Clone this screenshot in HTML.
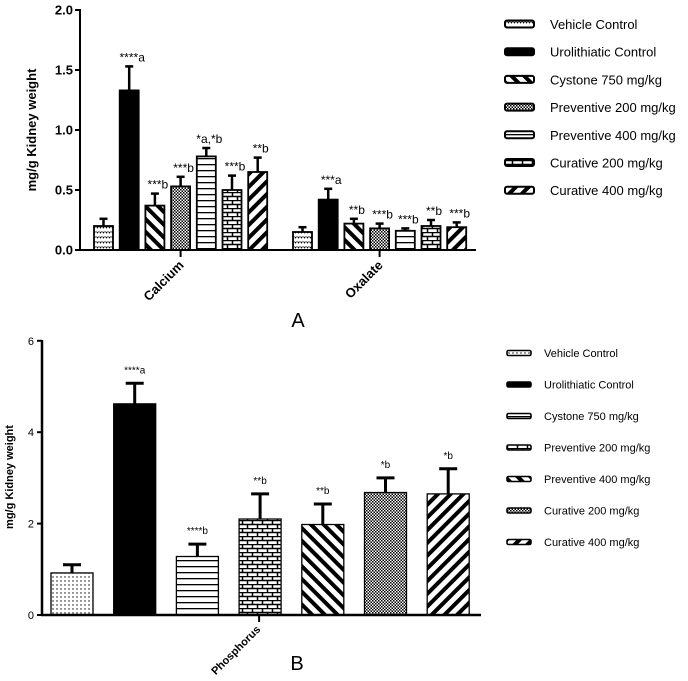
<!DOCTYPE html>
<html><head><meta charset="utf-8"><style>
body{margin:0;background:#fff;}
svg{display:block;font-family:"Liberation Sans",Arial,sans-serif;}
</style></head><body>
<svg id="s" width="688" height="681" viewBox="0 0 688 681" xmlns="http://www.w3.org/2000/svg">
<defs>
<pattern id="pDots" width="4" height="4" patternUnits="userSpaceOnUse"><rect width="4" height="4" fill="#fff"/><circle cx="1" cy="1" r="0.7" fill="#000"/></pattern>
<pattern id="pWave" width="6" height="5" patternUnits="userSpaceOnUse"><rect width="6" height="5" fill="#fff"/><path d="M0.5,1.5 L1.5,3 L2.5,1.5 M3.5,1.5 L4.5,3 L5.5,1.5" stroke="#000" stroke-width="0.8" fill="none"/></pattern>
<pattern id="pBack" width="9" height="9" patternUnits="userSpaceOnUse" patternTransform="rotate(-45)"><rect width="9" height="9" fill="#fff"/><rect width="4" height="9" fill="#000"/></pattern>
<pattern id="pFwd" width="9" height="9" patternUnits="userSpaceOnUse" patternTransform="rotate(45)"><rect width="9" height="9" fill="#fff"/><rect width="4" height="9" fill="#000"/></pattern>
<pattern id="pCheck" width="3" height="3" patternUnits="userSpaceOnUse"><rect width="3" height="3" fill="#fff"/><rect width="1.5" height="1.5" fill="#000"/><rect x="1.5" y="1.5" width="1.5" height="1.5" fill="#000"/></pattern>
<pattern id="pHoriz" width="6" height="6" patternUnits="userSpaceOnUse"><rect width="6" height="6" fill="#fff"/><rect y="2" width="6" height="1.3" fill="#000"/></pattern>
<pattern id="pBrick" width="10" height="8" patternUnits="userSpaceOnUse"><rect width="10" height="8" fill="#fff"/><path d="M0,0.5H10M0,4.5H10M2.5,0V4.5M7.5,4.5V8" stroke="#000" stroke-width="1.5"/></pattern>
</defs>
<g id="chartA"></g>
<g id="chartB"></g>
</svg>
<script>
const NS="http://www.w3.org/2000/svg";
const namesA=["Vehicle Control","Urolithiatic Control","Cystone 750 mg/kg","Preventive 200 mg/kg","Preventive 400 mg/kg","Curative 200 mg/kg","Curative 400 mg/kg"];
const categoriesA=["Calcium","Oxalate"];
const calciumMean=[0.20,1.33,0.37,0.53,0.78,0.50,0.65];
const calciumErr=[0.06,0.20,0.10,0.08,0.07,0.12,0.12];
const oxalateMean=[0.15,0.42,0.22,0.18,0.16,0.20,0.19];
const oxalateErr=[0.04,0.09,0.04,0.04,0.02,0.05,0.04];
const calciumLabels=["","****a","***b","***b","*a,*b","***b","**b"];
const oxalateLabels=["","***a","**b","***b","***b","**b","***b"];
const ticksA=["0.0","0.5","1.0","1.5","2.0"];
const fillsA=["pWave","black","pBack","pCheck","pHoriz","pBrick","pFwd"];
const namesB=["Vehicle Control","Urolithiatic Control","Cystone 750 mg/kg","Preventive 200 mg/kg","Preventive 400 mg/kg","Curative 200 mg/kg","Curative 400 mg/kg"];
const categoriesB=["Phosphorus"];
const phosMean=[0.92,4.62,1.28,2.10,1.98,2.68,2.65];
const phosErr=[0.18,0.45,0.27,0.55,0.45,0.32,0.55];
const phosLabels=["","****a","****b","**b","**b","*b","*b"];
const ticksB=["0","2","4","6"];
const fillsB=["pDots","black","pHoriz","pBrick","pBack","pCheck","pFwd"];

function el(p,t,a,txt){const e=document.createElementNS(NS,t);for(const k in a)e.setAttribute(k,a[k]);if(txt!==undefined)e.textContent=txt;p.appendChild(e);return e;}
function fillOf(f){return f==="black"?"#000":"url(#"+f+")";}

// Chart A
const gA=document.getElementById("chartA");
const yA=v=>250-v*120;
const groupStartA=[94,293], stepA=25.7, bwA=19;
function drawBarsA(means,errs,labs,gi){
  means.forEach((m,i)=>{
    const x=groupStartA[gi]+i*stepA;
    const cx=x+bwA/2, top=yA(m+errs[i]);
    const ln=el(gA,"line",{x1:cx,x2:cx,y1:yA(m),y2:top,stroke:"#000","stroke-width":2.5});
    
    
    const cap=el(gA,"line",{x1:cx-4,x2:cx+4,y1:top,y2:top,stroke:"#000","stroke-width":2.5});
    
    
    const r=el(gA,"rect",{x:x,y:yA(m),width:bwA,height:yA(0)-yA(m),fill:fillOf(fillsA[i]),stroke:"#000","stroke-width":1.8});
    
    
    if(labs[i]){const t=el(gA,"text",{x:cx+3,y:top-5,"font-size":12,"text-anchor":"middle"},labs[i]);
      
      }
  });
}
drawBarsA(calciumMean,calciumErr,calciumLabels,0);
drawBarsA(oxalateMean,oxalateErr,oxalateLabels,1);
let a=el(gA,"line",{x1:80,x2:80,y1:9,y2:251,stroke:"#000","stroke-width":2});
a=el(gA,"line",{x1:79,x2:476,y1:250,y2:250,stroke:"#000","stroke-width":2});
ticksA.forEach(t=>{const y=yA(parseFloat(t));
  el(gA,"line",{x1:75,x2:80,y1:y,y2:y,stroke:"#000","stroke-width":2});
  const tx=el(gA,"text",{x:73,y:y+4.5,"font-size":13,"font-weight":"bold","text-anchor":"end"},t);
  
  });
categoriesA.forEach((c,gi)=>{const cx=groupStartA[gi]+3*stepA+bwA/2;
  el(gA,"line",{x1:cx,x2:cx,y1:250,y2:257,stroke:"#000","stroke-width":2});
  const t=el(gA,"text",{x:cx+4,y:266,"font-size":13,"font-weight":"bold","text-anchor":"end",transform:`rotate(-45 ${cx+4} 266)`},c);
  
  });
a=el(gA,"text",{x:36,y:130,"font-size":13,"font-weight":"bold","text-anchor":"middle",transform:"rotate(-90 36 130)"},"mg/g Kidney weight");
a=el(gA,"text",{x:298,y:327,"font-size":20,"text-anchor":"middle"},"A");
namesA.forEach((n,i)=>{const y=24+i*27.7;
  const r=el(gA,"rect",{x:505,y:y-3.5,width:29,height:7,rx:2,fill:fillOf(fillsA[i]),stroke:"#000","stroke-width":2});
  
  
  const t=el(gA,"text",{x:550,y:y+5,"font-size":13},n);
  
  });

// Chart B
const gB=document.getElementById("chartB");
const yB=v=>615-v*45.7;
const startB=51, stepB=62.7, bwB=42;
phosMean.forEach((m,i)=>{
  const x=startB+i*stepB, cx=x+bwB/2, top=yB(m+phosErr[i]);
  const ln=el(gB,"line",{x1:cx,x2:cx,y1:yB(m),y2:top,stroke:"#000","stroke-width":3});
  
  
  const cap=el(gB,"line",{x1:cx-9,x2:cx+9,y1:top,y2:top,stroke:"#000","stroke-width":3});
  
  
  const r=el(gB,"rect",{x:x,y:yB(m),width:bwB,height:yB(0)-yB(m),fill:fillOf(fillsB[i]),stroke:"#000","stroke-width":1.3});
  
  
  if(phosLabels[i]){const t=el(gB,"text",{x:cx,y:top-10,"font-size":10,"text-anchor":"middle"},phosLabels[i]);
    
    }
});
a=el(gB,"line",{x1:42,x2:42,y1:340,y2:616,stroke:"#000","stroke-width":2.5});
a=el(gB,"line",{x1:41,x2:481,y1:615,y2:615,stroke:"#000","stroke-width":2.5});
ticksB.forEach(t=>{const y=yB(parseFloat(t));
  el(gB,"line",{x1:37,x2:42,y1:y,y2:y,stroke:"#000","stroke-width":2});
  const tx=el(gB,"text",{x:34,y:y+4,"font-size":11,"text-anchor":"end"},t);
  
  });
{const cx=startB+3*stepB+bwB/2-1;
  el(gB,"line",{x1:cx,x2:cx,y1:615,y2:622,stroke:"#000","stroke-width":2});
  const t=el(gB,"text",{x:cx+2,y:630,"font-size":11,"font-weight":"bold","text-anchor":"end",transform:`rotate(-45 ${cx+2} 630)`},categoriesB[0]);
  
  }
a=el(gB,"text",{x:13,y:477,"font-size":11,"font-weight":"bold","text-anchor":"middle",transform:"rotate(-90 13 477)"},"mg/g Kidney weight");
a=el(gB,"text",{x:297,y:670,"font-size":20,"text-anchor":"middle"},"B");
namesB.forEach((n,i)=>{const y=353+i*31.5;
  const r=el(gB,"rect",{x:507,y:y-2.5,width:24,height:5,rx:1.5,fill:fillOf(fillsB[i]),stroke:"#000","stroke-width":1.6});
  
  
  const t=el(gB,"text",{x:544,y:y+4,"font-size":11},n);
  
  });
</script>
</body></html>
